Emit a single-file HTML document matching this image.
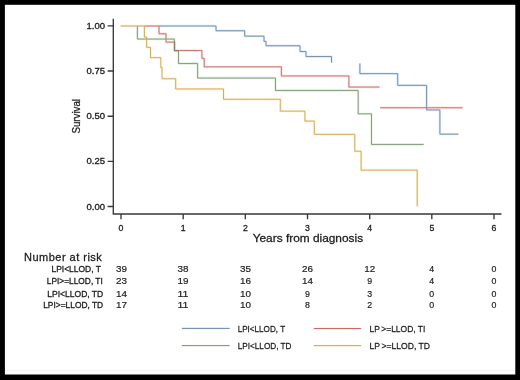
<!DOCTYPE html>
<html><head><meta charset="utf-8">
<style>
html,body{margin:0;padding:0;background:#000;}
body{width:520px;height:380px;overflow:hidden;font-family:"Liberation Sans",sans-serif;}
svg{display:block;will-change:transform;}
text{font-family:"Liberation Sans",sans-serif;fill:#1c1c1c;stroke:#1c1c1c;stroke-width:0.3px;}
text.t{stroke-width:0.28px;}
.nm text{stroke-width:0.18px;}
.lg text{stroke-width:0.26px;}
</style></head><body>
<svg width="520" height="380" viewBox="0 0 520 380">
<rect x="0" y="0" width="520" height="380" fill="#000"/>
<rect x="4.9" y="4.8" width="510.4" height="369.7" fill="#fff"/>
<line x1="5" y1="370.3" x2="515" y2="370.3" stroke="#f4f4f4" stroke-width="1"/>

<!-- axes -->
<g stroke="#383838" stroke-width="1.35" fill="none">
<path d="M113.3,18.7 V214 H501.5"/>
<path d="M107.6,25.8 H113.3 M107.6,71 H113.3 M107.6,116.2 H113.3 M107.6,161.3 H113.3 M107.6,206.5 H113.3"/>
<path d="M121,214 V219.3 M183.2,214 V219.3 M245.3,214 V219.3 M307.5,214 V219.3 M369.7,214 V219.3 M431.8,214 V219.3 M494,214 V219.3"/>
</g>

<!-- halos -->
<g transform="translate(0,0.15)">
<g fill="none" stroke-width="2.4" stroke-linejoin="round" stroke-linecap="butt" opacity="0.17">
<path stroke="#4a90e0" d="M159,25.85 H216 V30.6 H244.7 V36 H264 V41.2 H266 V45.6 H300 V51.4 H306 V56.4 H331.5 V62.6"/>
<path stroke="#4a90e0" d="M359.9,63.3 V73.5 H397.7 V85.2 H426.6 V109.8 H439.9 V134 H458.4"/>
<path stroke="#f04a34" d="M144.4,25.85 H159 V33.6 H166 V42 H174.7 V50.4 H201.9 V58.2 H204.2 V66.7 H281.4 V75.8 H348.9 V86.9 H379.6"/>
<path stroke="#f04a34" d="M380.2,107.6 H462.7"/>
<path stroke="#5cb03c" d="M137.4,25.85 V38.9 H174.3 V50.6 H178.5 V63.4 H197.6 V77.9 H275.5 V90.3 H358.2 V113.7 H371.5 V144.3 H423.7"/>
<path stroke="#ffb400" d="M120.7,25.85 H144.4 V37 H146.6 V47.2 H150.5 V57.5 H160.8 V67.4 H162 V78.6 H175.7 V88.8 H223.5 V99.1 H280.3 V111 H304.9 V120.9 H314.3 V134.2 H354.8 V151.1 H361.1 V170 H417.2 V206.1"/>
</g>
<!-- curves -->
<g fill="none" stroke-width="0.9" stroke-linejoin="miter">
<path stroke="#6a87a6" d="M159,25.85 H216 V30.6 H244.7 V36 H264 V41.2 H266 V45.6 H300 V51.4 H306 V56.4 H331.5 V62.6"/>
<path stroke="#6a87a6" d="M359.9,63.3 V73.5 H397.7 V85.2 H426.6 V109.8 H439.9 V134 H458.4"/>
<path stroke="#b3716c" d="M144.4,25.85 H159"/>
<path stroke="#c56a64" d="M159,25.85 V33.6 H166 V42 H174.7 V50.4 H201.9 V58.2 H204.2 V66.7 H281.4 V75.8 H348.9 V86.9 H379.6"/>
<path stroke="#c56a64" d="M380.2,107.6 H462.7"/>
<path stroke="#7c9476" d="M137.4,25.85 V38.9 H174.3 V50.6 H178.5 V63.4 H197.6 V77.9 H275.5 V90.3 H358.2 V113.7 H371.5 V144.3 H423.7"/>
<path stroke="#8f7862" d="M174.5,41 V50.5 H178.5"/>
<path stroke="#b89c72" d="M120.7,25.85 H144.4"/>
<path stroke="#cea450" d="M144.4,25.85 V37 H146.6 V47.2 H150.5 V57.5 H160.8 V67.4 H162 V78.6 H175.7 V88.8 H223.5 V99.1 H280.3 V111 H304.9 V120.9 H314.3 V134.2 H354.8 V151.1 H361.1 V170 H417.2 V206.1"/>
</g>

</g>
<!-- y tick labels -->
<g font-size="8.7" text-anchor="end">
<text x="105" y="28.8" textLength="18.5" lengthAdjust="spacingAndGlyphs">1.00</text>
<text x="105" y="74" textLength="18.5" lengthAdjust="spacingAndGlyphs">0.75</text>
<text x="105" y="119.2" textLength="18.5" lengthAdjust="spacingAndGlyphs">0.50</text>
<text x="105" y="164.3" textLength="18.5" lengthAdjust="spacingAndGlyphs">0.25</text>
<text x="105" y="209.5" textLength="18.5" lengthAdjust="spacingAndGlyphs">0.00</text>
</g>
<text class="t" transform="translate(80.1,116.3) rotate(-90)" font-size="11" text-anchor="middle" textLength="34.6" lengthAdjust="spacingAndGlyphs">Survival</text>

<!-- x tick labels -->
<g font-size="8.7" text-anchor="middle">
<text x="121" y="231">0</text>
<text x="183.2" y="231">1</text>
<text x="245.3" y="231">2</text>
<text x="307.5" y="231">3</text>
<text x="369.7" y="231">4</text>
<text x="431.8" y="231">5</text>
<text x="494" y="231">6</text>
</g>
<text class="t" x="252.7" y="242.4" font-size="11.4" textLength="110.4" lengthAdjust="spacingAndGlyphs">Years from diagnosis</text>

<!-- risk table -->
<text class="t" x="24" y="261" font-size="11" textLength="77.8" lengthAdjust="spacing">Number at risk</text>
<g font-size="8.8">
<text x="51.5" y="272.3" textLength="49.4" lengthAdjust="spacingAndGlyphs">LPI&lt;LLOD, T</text>
<text x="46.8" y="284.3" textLength="56" lengthAdjust="spacingAndGlyphs">LPI&gt;=LLOD, TI</text>
<text x="47.3" y="296.6" textLength="55.9" lengthAdjust="spacingAndGlyphs">LPI&lt;LLOD, TD</text>
<text x="43.2" y="308" textLength="60" lengthAdjust="spacingAndGlyphs">LPI&gt;=LLOD, TD</text>
</g>
<g font-size="8.8" text-anchor="middle" class="nm">
<g>
<text x="121.4" y="272" textLength="11" lengthAdjust="spacingAndGlyphs">39</text>
<text x="183" y="272" textLength="11" lengthAdjust="spacingAndGlyphs">38</text>
<text x="245.6" y="272" textLength="11" lengthAdjust="spacingAndGlyphs">35</text>
<text x="307.5" y="272" textLength="11" lengthAdjust="spacingAndGlyphs">26</text>
<text x="369.7" y="272" textLength="11" lengthAdjust="spacingAndGlyphs">12</text>
<text x="431.8" y="272">4</text>
<text x="494" y="272">0</text>
</g>
<g>
<text x="121.4" y="284.3" textLength="11" lengthAdjust="spacingAndGlyphs">23</text>
<text x="183" y="284.3" textLength="11" lengthAdjust="spacingAndGlyphs">19</text>
<text x="245.6" y="284.3" textLength="11" lengthAdjust="spacingAndGlyphs">16</text>
<text x="307.5" y="284.3" textLength="11" lengthAdjust="spacingAndGlyphs">14</text>
<text x="369.7" y="284.3">9</text>
<text x="431.8" y="284.3">4</text>
<text x="494" y="284.3">0</text>
</g>
<g>
<text x="121.4" y="296.6" textLength="11" lengthAdjust="spacingAndGlyphs">14</text>
<text x="183" y="296.6" textLength="11" lengthAdjust="spacingAndGlyphs">11</text>
<text x="245.6" y="296.6" textLength="11" lengthAdjust="spacingAndGlyphs">10</text>
<text x="307.5" y="296.6">9</text>
<text x="369.7" y="296.6">3</text>
<text x="431.8" y="296.6">0</text>
<text x="494" y="296.6">0</text>
</g>
<g>
<text x="121.4" y="307.7" textLength="11" lengthAdjust="spacingAndGlyphs">17</text>
<text x="183" y="307.7" textLength="11" lengthAdjust="spacingAndGlyphs">11</text>
<text x="245.6" y="307.7" textLength="11" lengthAdjust="spacingAndGlyphs">10</text>
<text x="307.5" y="307.7">8</text>
<text x="369.7" y="307.7">2</text>
<text x="431.8" y="307.7">0</text>
<text x="494" y="307.7">0</text>
</g>
</g>

<!-- legend -->
<g stroke-width="2.4" fill="none" opacity="0.08" stroke-linecap="butt">
<path stroke="#4a90e0" d="M181.9,328.4 H229.6"/>
<path stroke="#5cb03c" d="M181.9,345.6 H229.6"/>
<path stroke="#f04a34" d="M313.8,328.5 H361.2"/>
<path stroke="#ffb400" d="M313.8,345.65 H361.2"/>
</g>
<g stroke-width="1" fill="none">
<path stroke="#6a87a6" d="M181.9,328.4 H229.6"/>
<path stroke="#7c9476" d="M181.9,345.6 H229.6"/>
<path stroke="#c56a64" d="M313.8,328.5 H361.2"/>
<path stroke="#cea450" d="M313.8,345.65 H361.2"/>
</g>
<g font-size="9.9" class="lg">
<text x="237.7" y="332.2" textLength="47.4" lengthAdjust="spacingAndGlyphs">LPI&lt;LLOD, T</text>
<text x="237.7" y="349.1" textLength="53.8" lengthAdjust="spacingAndGlyphs">LPI&lt;LLOD, TD</text>
<text x="369.5" y="332" textLength="55.9" lengthAdjust="spacingAndGlyphs">LP<tspan dx="1.6">&gt;=LLOD, TI</tspan></text>
<text x="369.5" y="349.1" textLength="60.5" lengthAdjust="spacingAndGlyphs">LP<tspan dx="1.6">&gt;=LLOD, TD</tspan></text>
</g>
</svg>
</body></html>
